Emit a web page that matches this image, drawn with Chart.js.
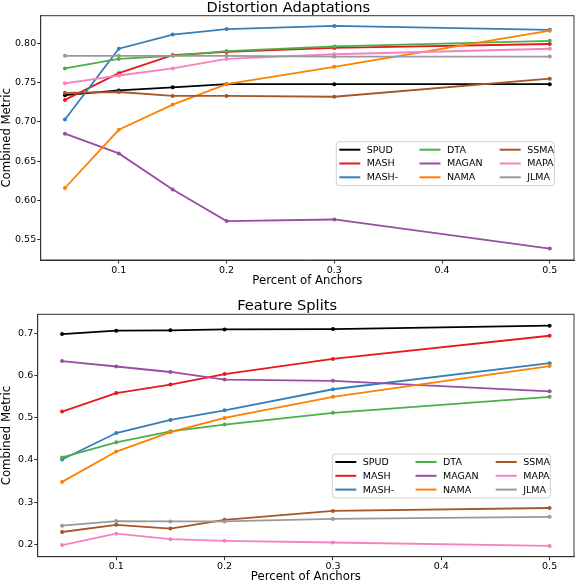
<!DOCTYPE html>
<html>
<head>
<meta charset="utf-8">
<script src="https://cdn.jsdelivr.net/npm/chart.js@4.4.1/dist/chart.umd.min.js"></script>
<style>
  body { margin: 0; background: #fff; }
  .box { position: absolute; left: 0; width: 578px; height: 292px; }
</style>
</head>
<body>
<div class="box" style="top:0"><canvas id="distChart" width="578" height="292"></canvas></div>
<div class="box" style="top:292px"><canvas id="featChart" width="578" height="292"></canvas></div>
<script>
// data
var anchors = [0.05, 0.1, 0.15, 0.2, 0.3, 0.5];
var methods = ["SPUD", "MASH", "MASH-", "DTA", "MAGAN", "NAMA", "SSMA", "MAPA", "JLMA"];
var colors = ["#000000", "#e41a1c", "#377eb8", "#4daf4a", "#984ea3", "#ff7f00", "#a65628", "#f781bf", "#999999"];
var xTicks = [0.1, 0.2, 0.3, 0.4, 0.5];

// Distortion Adaptations
var spudDist = [0.734, 0.740, 0.744, 0.748, 0.748, 0.748];
var mashDist = [0.728, 0.762, 0.785, 0.789, 0.794, 0.799];
var mashMinusDist = [0.703, 0.793, 0.811, 0.818, 0.822, 0.817];
var dtaDist = [0.768, 0.780, 0.784, 0.790, 0.796, 0.803];
var maganDist = [0.685, 0.660, 0.614, 0.574, 0.576, 0.539];
var namaDist = [0.616, 0.690, 0.722, 0.748, 0.770, 0.816];
var ssmaDist = [0.737, 0.738, 0.733, 0.733, 0.732, 0.755];
var mapaDist = [0.749, 0.759, 0.768, 0.780, 0.786, 0.793];
var jlmaDist = [0.784, 0.784, 0.784, 0.784, 0.783, 0.783];
var distTicks = [0.55, 0.60, 0.65, 0.70, 0.75, 0.80];

// Feature Splits
var spudFeat = [0.699, 0.707, 0.708, 0.710, 0.711, 0.719];
var mashFeat = [0.515, 0.559, 0.579, 0.604, 0.640, 0.695];
var mashMinusFeat = [0.401, 0.464, 0.495, 0.518, 0.568, 0.630];
var dtaFeat = [0.406, 0.442, 0.468, 0.484, 0.512, 0.550];
var maganFeat = [0.635, 0.622, 0.609, 0.591, 0.588, 0.563];
var namaFeat = [0.348, 0.420, 0.466, 0.500, 0.550, 0.623];
var ssmaFeat = [0.229, 0.246, 0.237, 0.258, 0.279, 0.286];
var mapaFeat = [0.198, 0.225, 0.212, 0.208, 0.204, 0.196];
var jlmaFeat = [0.244, 0.255, 0.254, 0.254, 0.260, 0.265];
var featTicks = [0.2, 0.3, 0.4, 0.5, 0.6, 0.7];

var FONT = "'DejaVu Sans', sans-serif";

// frame round the plot area, like matplotlib spines
var framePlugin = {
	id: "frame",
	afterDraw: function(chart) {
		var a = chart.chartArea, ctx = chart.ctx;
		ctx.save();
		ctx.strokeStyle = "#333";
		ctx.lineWidth = 1;
		ctx.strokeRect(a.left, a.top, a.right - a.left, a.bottom - a.top);
		ctx.restore();
	}
};

// three column legend, filled column by column
var boxLegendPlugin = {
	id: "boxLegend",
	afterDraw: function(chart, args, opts) {
		var ctx = chart.ctx, a = chart.chartArea;
		var x0 = a.left + opts.left, y0 = a.top + opts.top;
		var w = 218, h = 44;
		ctx.save();
		ctx.beginPath();
		ctx.roundRect(x0, y0, w, h, 3);
		ctx.fillStyle = "rgba(255,255,255,0.85)";
		ctx.fill();
		ctx.strokeStyle = "#d0d0d0";
		ctx.lineWidth = 1;
		ctx.stroke();
		ctx.font = "9.5px " + FONT;
		ctx.textBaseline = "middle";
		chart.data.datasets.forEach(function(ds, i) {
			var col = Math.floor(i / 3), row = i % 3;
			var lx = x0 + 3 + col * 80.2;
			var ly = y0 + 8 + row * 13.8;
			ctx.strokeStyle = ds.borderColor;
			ctx.lineWidth = 2;
			ctx.beginPath();
			ctx.moveTo(lx, ly);
			ctx.lineTo(lx + 21, ly);
			ctx.stroke();
			ctx.fillStyle = "#000";
			ctx.fillText(ds.label, lx + 27.5, ly + 0.5);
		});
		ctx.restore();
	}
};

function buildDatasets(series) {
	return methods.map(function(name, i) {
		return {
			label: name,
			data: anchors.map(function(x, j) { return { x: x, y: series[i][j] }; }),
			borderColor: colors[i],
			backgroundColor: colors[i],
			borderWidth: 1.8,
			pointRadius: 2,
			pointBorderWidth: 0,
			pointBackgroundColor: colors[i],
			order: methods.length - i
		};
	});
}

function makeChart(id, cfg) {
	var ctx = document.getElementById(id).getContext("2d");
	return new Chart(ctx, {
		type: "line",
		data: { datasets: buildDatasets(cfg.series) },
		options: {
			responsive: false,
			animation: false,
			layout: { padding: { top: cfg.padTop, right: cfg.padRight, left: 0, bottom: 0 } },
			plugins: {
				legend: { display: false },
				tooltip: { enabled: false },
				title: {
					display: true,
					text: cfg.title,
					color: "#000",
					font: { family: FONT, size: 14.6, weight: "normal", lineHeight: 1.075 },
					padding: 0
				},
				boxLegend: { left: cfg.legendLeft, top: cfg.legendTop }
			},
			scales: {
				x: {
					type: "linear",
					min: 0.0275,
					max: 0.5225,
					afterBuildTicks: function(s) { s.ticks = xTicks.map(function(v) { return { value: v }; }); },
					afterFit: function(s) { s.height = cfg.xHeight; },
					grid: { drawOnChartArea: false, drawTicks: true, tickLength: 3.5, color: "#333" },
					border: { display: true, color: "#333" },
					ticks: {
						color: "#000",
						padding: 1,
						maxRotation: 0,
						font: { family: FONT, size: 9.5 },
						callback: function(v) { return v.toFixed(1); }
					},
					title: {
						display: true,
						text: "Percent of Anchors",
						color: "#000",
						font: { family: FONT, size: 11.7 },
						padding: { top: 0, bottom: cfg.xTitlePad }
					}
				},
				y: {
					min: cfg.yMin,
					max: cfg.yMax,
					afterBuildTicks: function(s) { s.ticks = cfg.yTicks.map(function(v) { return { value: v }; }); },
					afterFit: function(s) { s.width = cfg.yWidth; },
					grid: { drawOnChartArea: false, drawTicks: true, tickLength: 3.5, color: "#333" },
					border: { display: true, color: "#333" },
					ticks: {
						color: "#000",
						padding: 1,
						font: { family: FONT, size: 9.5 },
						callback: function(v) { return v.toFixed(cfg.decimals); }
					},
					title: {
						display: true,
						text: "Combined Metric",
						color: "#000",
						font: { family: FONT, size: 11.7 },
						padding: { top: 0, bottom: 0 }
					}
				}
			}
		},
		plugins: [framePlugin, boxLegendPlugin]
	});
}

makeChart("distChart", {
	title: "Distortion Adaptations",
	series: [spudDist, mashDist, mashMinusDist, dtaDist, maganDist, namaDist, ssmaDist, mapaDist, jlmaDist],
	yMin: 0.5245, yMax: 0.835, yTicks: distTicks, decimals: 2,
	padTop: 0, padRight: 1.3, yWidth: 40.7, xHeight: 32, xTitlePad: 4,
	legendLeft: 295.6, legendTop: 126
});

makeChart("featChart", {
	title: "Feature Splits",
	series: [spudFeat, mashFeat, mashMinusFeat, dtaFeat, maganFeat, namaFeat, ssmaFeat, mapaFeat, jlmaFeat],
	yMin: 0.1703, yMax: 0.746, yTicks: featTicks, decimals: 1,
	padTop: 6.6, padRight: 3.7, yWidth: 37.7, xHeight: 27.3, xTitlePad: 0,
	legendLeft: 294.6, legendTop: 139.7
});
</script>
</body>
</html>
